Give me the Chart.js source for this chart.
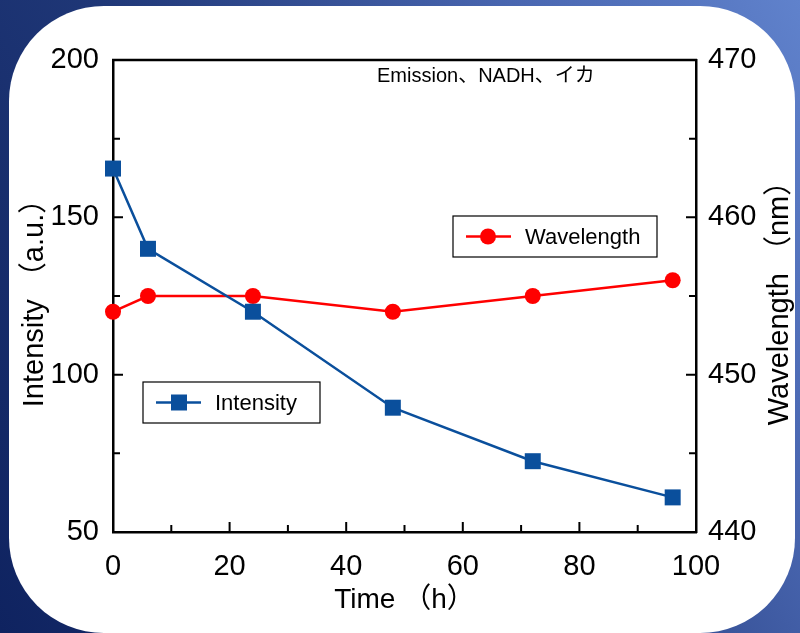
<!DOCTYPE html>
<html>
<head>
<meta charset="utf-8">
<script src="https://cdn.jsdelivr.net/npm/chart.js@4"></script>
<style>
  html, body { margin: 0; padding: 0; }
  body {
    width: 800px; height: 633px; overflow: hidden; position: relative;
    background: linear-gradient(60deg, #0f2360 0%, #1f3777 40%, #4966b0 75%, #6082cc 100%);
  }
  .panel {
    position: absolute; left: 9px; top: 6px; width: 786px; height: 627px;
    background: #fff; border-radius: 95px;
  }
  #grafico { position: absolute; left: 0; top: 0; }
</style>
</head>
<body>
<div class="panel"></div>
<canvas id="grafico" width="800" height="633"></canvas>
<script>
/* dados */
var tempos = [0, 6, 24, 48, 72, 96];
var intensidade = [165.5, 140, 120, 89.5, 72.5, 61];
var comprimentoOnda = [454, 455, 455, 454, 455, 456];

var fonteNum = "'Liberation Sans', sans-serif";
var fonteTit = "'Liberation Sans', 'Noto Sans CJK JP', sans-serif";

/* ticks para dentro, borda de cima, título direito, legendas */
var extras = {
    id: 'extras',
    afterDraw: function (chart) {
        var ctx = chart.ctx;
        var a = chart.chartArea;
        var sx = chart.scales.x, sy = chart.scales.y, sy2 = chart.scales.y2;
        ctx.save();
        ctx.strokeStyle = '#000';
        ctx.lineWidth = 2.5;
        ctx.beginPath();
        ctx.moveTo(a.left - 1, a.top);
        ctx.lineTo(a.right + 1, a.top);
        ctx.stroke();

        ctx.lineWidth = 2;
        ctx.beginPath();
        for (var v = 0; v <= 100; v += 10) {
            var px = sx.getPixelForValue(v);
            var len = v % 20 === 0 ? 10 : 7;
            ctx.moveTo(px, a.bottom);
            ctx.lineTo(px, a.bottom - len);
        }
        for (var v = 50; v <= 200; v += 25) {
            var py = sy.getPixelForValue(v);
            var len = v % 50 === 0 ? 10 : 7;
            ctx.moveTo(a.left, py);
            ctx.lineTo(a.left + len, py);
        }
        for (var v = 440; v <= 470; v += 5) {
            var py = sy2.getPixelForValue(v);
            var len = v % 10 === 0 ? 10 : 7;
            ctx.moveTo(a.right, py);
            ctx.lineTo(a.right - len, py);
        }
        ctx.stroke();

        // título do eixo direito
        ctx.fillStyle = '#000';
        ctx.font = "29px " + fonteTit;
        ctx.textAlign = 'center';
        ctx.textBaseline = 'middle';
        ctx.save();
        ctx.translate(780, (a.top + a.bottom) / 2);
        ctx.rotate(-Math.PI / 2);
        ctx.fillText('Wavelength （nm）', 0, 0);
        ctx.restore();

        // anotação
        ctx.font = "20px " + fonteTit;
        ctx.textAlign = 'left';
        ctx.fillText('Emission、NADH、イカ', 377, 76);

        // legendas
        function legenda(ds, x, y, w, h) {
            ctx.lineWidth = 1.2;
            ctx.strokeStyle = '#000';
            ctx.fillStyle = '#fff';
            ctx.fillRect(x, y, w, h);
            ctx.strokeRect(x, y, w, h);
            var cy = y + h / 2;
            ctx.strokeStyle = ds.borderColor;
            ctx.lineWidth = ds.borderWidth;
            ctx.beginPath();
            ctx.moveTo(x + 13, cy);
            ctx.lineTo(x + 58, cy);
            ctx.stroke();
            ctx.fillStyle = ds.pointBackgroundColor;
            if (ds.pointStyle === 'rect') {
                ctx.fillRect(x + 28, cy - 8, 16, 16);
            } else {
                ctx.beginPath();
                ctx.arc(x + 35, cy, 8, 0, Math.PI * 2);
                ctx.fill();
            }
            ctx.fillStyle = '#000';
            ctx.font = "22px " + fonteTit;
            ctx.textAlign = 'left';
            ctx.fillText(ds.label, x + 72, cy + 1);
        }
        legenda(chart.data.datasets[1], 453, 216, 204, 41);
        legenda(chart.data.datasets[0], 143, 382, 177, 41);
        ctx.restore();
    }
};

var ctx = document.getElementById('grafico').getContext('2d');
var grafico = new Chart(ctx, {
    type: 'line',
    data: {
        datasets: [{
            label: 'Intensity',
            data: tempos.map(function (t, i) { return { x: t, y: intensidade[i] }; }),
            yAxisID: 'y',
            borderColor: '#0a4f9c',
            backgroundColor: '#0a4f9c',
            pointBackgroundColor: '#0a4f9c',
            pointBorderWidth: 0,
            pointStyle: 'rect',
            pointRadius: 11.3,
            borderWidth: 2.5,
            tension: 0,
            clip: false
        }, {
            label: 'Wavelength',
            data: tempos.map(function (t, i) { return { x: t, y: comprimentoOnda[i] }; }),
            yAxisID: 'y2',
            borderColor: '#ff0000',
            backgroundColor: '#ff0000',
            pointBackgroundColor: '#ff0000',
            pointBorderWidth: 0,
            pointStyle: 'circle',
            pointRadius: 8,
            borderWidth: 2.5,
            tension: 0,
            clip: false
        }]
    },
    options: {
        responsive: false,
        animation: false,
        layout: { padding: { top: 60, left: 0, right: 0, bottom: 0 } },
        plugins: {
            legend: { display: false },
            tooltip: { enabled: false }
        },
        scales: {
            x: {
                type: 'linear',
                min: 0, max: 100,
                ticks: { stepSize: 20, color: '#000', padding: 18, font: { family: fonteNum, size: 29 } },
                grid: { drawOnChartArea: false, drawTicks: false },
                border: { color: '#000', width: 2.5 },
                title: { display: true, text: 'Time （h）', color: '#000', padding: { top: 0, bottom: 16 }, font: { family: fonteTit, size: 28 } },
                afterFit: function (s) { s.height = 101; }
            },
            y: {
                position: 'left',
                min: 50, max: 200,
                ticks: { stepSize: 50, color: '#000', padding: 14, font: { family: fonteNum, size: 29 } },
                grid: { drawOnChartArea: false, drawTicks: false },
                border: { color: '#000', width: 2.5 },
                title: { display: true, text: 'Intensity （a.u.）', color: '#000', padding: { top: 18, bottom: 0 }, font: { family: fonteTit, size: 29 } },
                afterFit: function (s) { s.width = 113; }
            },
            y2: {
                position: 'right',
                min: 440, max: 470,
                ticks: { stepSize: 10, color: '#000', padding: 12, font: { family: fonteNum, size: 29 } },
                grid: { drawOnChartArea: false, drawTicks: false },
                border: { color: '#000', width: 2.5 },
                afterFit: function (s) { s.width = 104; }
            }
        }
    },
    plugins: [extras]
});
</script>
</body>
</html>
